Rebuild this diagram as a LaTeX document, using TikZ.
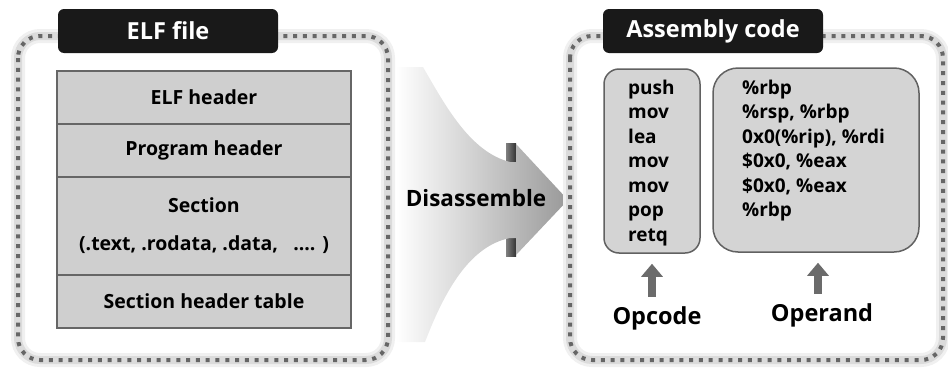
\documentclass[tikz,border=0pt]{standalone}
\usepackage{fontspec}
\setmainfont{Open Sans}
\usetikzlibrary{arrows.meta}
\begin{document}
\begin{tikzpicture}[x=1pt,y=-1pt,
  glowA/.style={draw=black!6, line width=14pt, rounded corners=22pt},
  glowB/.style={draw=black!14, line width=8pt, rounded corners=22pt},
  dots/.style={draw=black!60, line width=4pt, dash pattern=on 4pt off 5.8pt, rounded corners=22pt},
  titlebox/.style={fill=black!90, rounded corners=6pt, minimum width=220pt, minimum height=44pt, inner sep=0pt, text=white, font=\fontsize{23.5}{28}\selectfont\bfseries},
  row/.style={draw=black!60, line width=1.5pt, fill=black!19, minimum width=294pt, inner sep=0pt, font=\fontsize{19.5}{24}\selectfont\bfseries},
  codebox/.style={draw=black!62, line width=1.5pt, fill=black!17, minimum height=184pt, inner sep=0pt},
  code/.style={inner sep=0pt, anchor=base west, font=\fontsize{19}{24}\selectfont\bfseries},
  biglabel/.style={inner sep=0pt, font=\fontsize{23.5}{28}\selectfont\bfseries},
  uparrow/.style={draw=black!58, line width=8pt, -{Triangle[width=21pt,length=13pt]}, shorten <=9.5pt, shorten >=10pt}
]
\useasboundingbox (0,0) rectangle (948,367);

% big disassemble arrow (shape)
\shade[left color=black!50, right color=black!80] (506,143) rectangle (516,164);
\shade[left color=black!50, right color=black!80] (506,236) rectangle (516,256);
\shade[left color=white, right color=black!40]
  (396,67) -- (423,67) .. controls (445,105) and (470,152) .. (510,162)
  -- (516,162) -- (516,144) -- (568,200) -- (516,255) -- (516,238) -- (510,238)
  .. controls (470,246) and (445,290) .. (425,342) -- (396,342) -- cycle;
\node[inner sep=0pt, font=\fontsize{22.5}{26}\selectfont\bfseries] (dis) at (476,198) {Disassemble};

% left container
\path[glowA] (18,36) rectangle (388,360);
\path[glowB] (18,36) rectangle (388,360);
\path[dots] (18,36) rectangle (388,360);
\node[titlebox] (elf) at (168,31) {ELF file};
\node[row, minimum height=53pt] (r1) at (204,97.5) {ELF header};
\node[row, minimum height=53pt] (r2) at (204,150.5) {Program header};
\node[row, minimum height=98pt, align=center, font=\fontsize{19.5}{38}\selectfont\bfseries] (r3) at (204,226) {Section\\(.text, .rodata, .data,\ \ \ .... )};
\node[row, minimum height=53pt] (r4) at (204,301.5) {Section header table};

% right container
\path[glowA] (570,36) rectangle (943,360);
\path[glowB] (570,36) rectangle (943,360);
\path[dots] (570,36) rectangle (943,360);
\node[titlebox] (asm) at (713,31) {Assembly code};
\node[codebox, rounded corners=15pt, minimum width=96pt] (opbox) at (652,161) {};
\node[codebox, rounded corners=25pt, minimum width=206pt] (oprbox) at (816,160) {};
\foreach \t [count=\i] in {push,mov,lea,mov,mov,pop,retq}
  \node[code] (oc\i) at (628,{94+24.5*(\i-1)}) {\t};
\foreach \t [count=\i] in {\%rbp,{\%rsp, \%rbp},{0x0(\%rip), \%rdi},{\$0x0, \%eax},{\$0x0, \%eax},\%rbp}
  \node[code] (od\i) at (742,{94+24.5*(\i-1)}) {\t};
\node[biglabel] (opcode) at (657,318) {Opcode};
\node[biglabel] (operand) at (822,315) {Operand};
\draw[uparrow] (opcode.north -| opbox.south) -- (opbox.south);
\draw[uparrow] ([xshift=2pt]operand.north -| oprbox.south) -- ([xshift=2pt]oprbox.south);
\end{tikzpicture}
\end{document}
